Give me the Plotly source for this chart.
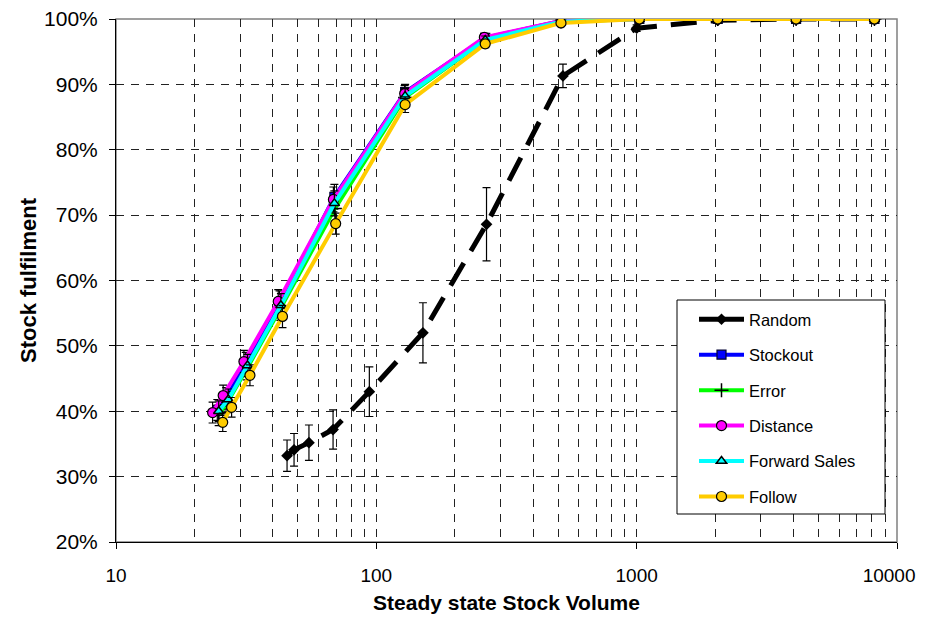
import plotly.graph_objects as go

# ---------------- data ----------------
series_names = ["Random", "Stockout", "Error", "Distance", "Forward Sales", "Follow"]

random_x = [45.4, 48.3, 55.1, 68.2, 94, 151, 265, 521, 1000, 2048, 4096, 8192]
random_y = [33.2, 34.1, 35.2, 37.2, 43.0, 52.0, 68.6, 91.3, 98.6, 99.8, 100, 100]
random_err = [2.4, 2.5, 2.7, 3.0, 3.8, 4.6, 5.6, 1.8, 0.5, 0.2, 0.0, 0.0]

stockout_x = [24.5, 26.5, 31.5, 42.5, 69.0, 129, 262, 512, 1024, 2048, 4096, 8192]
stockout_y = [40.2, 42.0, 47.3, 56.6, 72.8, 88.8, 97.1, 99.7, 100, 100, 100, 100]
stockout_err = [1.6, 1.6, 1.7, 1.8, 1.9, 1.2, 0.6, 0.2, 0.0, 0.0, 0.0, 0.0]

error_x = [24.8, 26.8, 31.8, 42.8, 69.3, 129, 262, 512, 1024, 2048, 4096, 8192]
error_y = [39.4, 41.4, 46.5, 55.7, 71.0, 88.0, 96.8, 99.6, 100, 100, 100, 100]
error_err = [1.6, 1.6, 1.7, 1.8, 1.9, 1.2, 0.6, 0.2, 0.0, 0.0, 0.0, 0.0]

distance_x = [23.5, 25.8, 31.0, 42.0, 68.4, 128.5, 260, 512, 1024, 2048, 4096, 8192]
distance_y = [39.8, 42.4, 47.6, 56.8, 72.4, 88.6, 97.2, 99.7, 100, 100, 100, 100]
distance_err = [1.6, 1.6, 1.7, 1.8, 1.9, 1.2, 0.6, 0.2, 0.0, 0.0, 0.0, 0.0]

fsales_x = [24.8, 27.0, 32.0, 43.0, 69.0, 129, 262, 512, 1024, 2048, 4096, 8192]
fsales_y = [40.0, 41.8, 47.0, 56.2, 71.8, 88.2, 96.8, 99.6, 100, 100, 100, 100]
fsales_err = [1.6, 1.6, 1.7, 1.8, 1.9, 1.2, 0.6, 0.2, 0.0, 0.0, 0.0, 0.0]

follow_x = [25.7, 27.8, 32.7, 43.6, 69.8, 129, 262, 512, 1024, 2048, 4096, 8192]
follow_y = [38.3, 40.6, 45.5, 54.5, 68.7, 86.9, 96.2, 99.4, 100, 100, 100, 100]
follow_err = [1.4, 1.5, 1.6, 1.7, 1.6, 1.2, 0.6, 0.2, 0.0, 0.0, 0.0, 0.0]

x_tick_vals = [10, 100, 1000, 10000]
# trailing no-break spaces nudge the last label left so it is not clipped at the page edge
x_tick_text = ["10", "100", "1000", "10000\u00a0\u00a0\u00a0"]
x_minor_vals = [20, 30, 40, 50, 60, 70, 80, 90,
                200, 300, 400, 500, 600, 700, 800, 900,
                2000, 3000, 4000, 5000, 6000, 7000, 8000, 9000]
y_tick_vals = [20, 30, 40, 50, 60, 70, 80, 90, 100]
y_tick_text = ["20%", "30%", "40%", "50%", "60%", "70%", "80%", "90%", "100%"]

# ---------------- figure ----------------
FONT = "Liberation Sans, Arial, sans-serif"
fig = go.Figure()

def eb(vals):
    return dict(type="data", array=vals, visible=True, color="black", thickness=1.2, width=4)

fig.add_trace(go.Scatter(
    x=random_x, y=random_y, name="Random", mode="lines+markers", legendgroup="g1",
    line=dict(color="black", width=5, dash="26px,14px"),
    marker=dict(symbol="diamond", size=9, color="black"),
    error_y=eb(random_err), showlegend=False))
# legend entry for Random (solid sample, as in the reference legend)
fig.add_trace(go.Scatter(
    x=[None], y=[None], name="Random", mode="lines+markers", legendgroup="g1",
    line=dict(color="black", width=5),
    marker=dict(symbol="diamond", size=9, color="black")))

fig.add_trace(go.Scatter(
    x=stockout_x, y=stockout_y, name="Stockout", mode="lines+markers", legendgroup="g2",
    line=dict(color="#0000FF", width=4),
    marker=dict(symbol="square", size=9, color="#0000FF", line=dict(color="#000033", width=1.2)),
    error_y=eb(stockout_err)))

fig.add_trace(go.Scatter(
    x=error_x, y=error_y, name="Error", mode="lines+markers", legendgroup="g3",
    line=dict(color="#00FF00", width=4),
    marker=dict(symbol="cross-thin", size=10, color="black", line=dict(color="black", width=1.5)),
    error_y=eb(error_err)))

fig.add_trace(go.Scatter(
    x=distance_x, y=distance_y, name="Distance", mode="lines+markers", legendgroup="g4",
    line=dict(color="#FF00FF", width=4),
    marker=dict(symbol="circle", size=10, color="#FF00FF", line=dict(color="black", width=1.2)),
    error_y=eb(distance_err)))

fig.add_trace(go.Scatter(
    x=fsales_x, y=fsales_y, name="Forward Sales", mode="lines+markers", legendgroup="g5",
    line=dict(color="#00FFFF", width=4),
    marker=dict(symbol="triangle-up", size=9, color="#00FFFF", line=dict(color="black", width=1.5)),
    error_y=eb(fsales_err)))

fig.add_trace(go.Scatter(
    x=follow_x, y=follow_y, name="Follow", mode="lines+markers", legendgroup="g6",
    line=dict(color="#FFCC00", width=4),
    marker=dict(symbol="circle", size=10, color="#FFCC00", line=dict(color="black", width=1.2)),
    error_y=eb(follow_err)))

grid_col = "#222222"
# the page body adds an 8px offset; the figure is sized so the page does not scroll
OFF = 8
W, H = 926 - OFF, 622 - 2 * OFF
L, T = 116 - OFF, 19 - OFF
R = W - (897 - OFF)
B = H - (542 - OFF)
PW, PH = W - L - R, H - T - B

def px_to_paper_x(px):
    return (px - OFF - L) / PW

def px_to_paper_y(py):
    return (H - B - (py - OFF)) / PH

fig.update_layout(
    width=W, height=H,
    margin=dict(l=L, r=R, t=T, b=B, autoexpand=False),
    paper_bgcolor="white", plot_bgcolor="white",
    font=dict(family=FONT, size=21, color="black"),
    showlegend=True,
    legend=dict(
        x=px_to_paper_x(694), y=px_to_paper_y(302), xanchor="left", yanchor="top",
        bgcolor="rgba(0,0,0,0)", borderwidth=0,
        font=dict(family=FONT, size=16.5, color="black"),
        traceorder="grouped", tracegroupgap=11,
        itemwidth=45,
    ),
    xaxis=dict(
        type="log", range=[1, 4], automargin=False,
        tickvals=x_tick_vals, ticktext=x_tick_text,
        tickfont=dict(family=FONT, size=19),
        ticks="outside", ticklen=6, tickcolor="black",
        ticklabelstandoff=10, ticklabeloverflow="allow",
        showline=True, linecolor="black", linewidth=1,
        showgrid=True, gridcolor=grid_col, gridwidth=1, griddash="8px,7px",
        minor=dict(tickvals=x_minor_vals, showgrid=True, gridcolor=grid_col, gridwidth=1,
                   griddash="8px,7px", ticks=""),
        zeroline=False,
        title=dict(text="<b>Steady state Stock Volume</b>", font=dict(family=FONT, size=21), standoff=13),
    ),
    yaxis=dict(
        range=[20, 100], automargin=False,
        tickvals=y_tick_vals, ticktext=y_tick_text,
        ticks="outside", ticklen=6, tickcolor="black",
        ticklabelstandoff=7, ticklabeloverflow="allow",
        showline=True, linecolor="black", linewidth=1,
        showgrid=True, gridcolor=grid_col, gridwidth=1, griddash="8px,7px",
        zeroline=False,
        title=dict(text="<b>Stock fulfilment</b>", font=dict(family=FONT, size=22), standoff=1),
    ),
)

fig.add_shape(type="rect", xref="paper", yref="paper", x0=0, y0=0, x1=1, y1=1,
              line=dict(color="#808080", width=1.5), layer="below")
# legend frame
fig.add_shape(type="rect", xref="paper", yref="paper",
              x0=px_to_paper_x(677), x1=px_to_paper_x(885),
              y0=px_to_paper_y(514), y1=px_to_paper_y(300),
              line=dict(color="black", width=1), fillcolor="white", layer="above")

fig.write_html("out.html")
